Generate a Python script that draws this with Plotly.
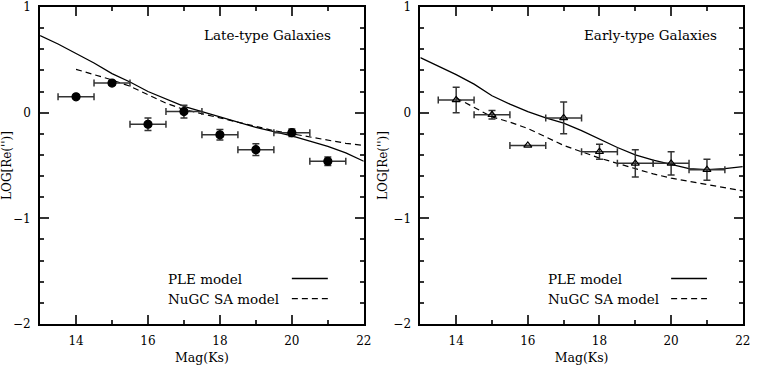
import plotly.graph_objects as go

# observed bins (Ks magnitude)
mag = [14, 15, 16, 17, 18, 19, 20, 21]
mag_err = [0.5] * 8

# late-type galaxies
late_re = [0.15, 0.28, -0.11, 0.01, -0.21, -0.35, -0.19, -0.46]
late_err = [0.0, 0.02, 0.06, 0.06, 0.05, 0.055, 0.035, 0.04]

# early-type galaxies
early_re = [0.12, -0.02, -0.31, -0.05, -0.37, -0.48, -0.48, -0.54]
early_err = [0.12, 0.04, 0.0, 0.15, 0.07, 0.13, 0.11, 0.10]

# model curves
ple_mag = [13, 13.5, 14, 14.5, 15, 15.5, 16, 16.5, 17, 17.5, 18, 18.5, 19, 19.5, 20, 20.5, 21, 21.5, 22]
late_ple = [0.73, 0.65, 0.56, 0.47, 0.37, 0.29, 0.20, 0.13, 0.06, 0.01, -0.04, -0.09, -0.14, -0.18,
            -0.22, -0.27, -0.32, -0.38, -0.46]
early_ple = [0.52, 0.44, 0.36, 0.27, 0.16, 0.08, 0.01, -0.05, -0.10, -0.17, -0.25, -0.33, -0.40, -0.45,
             -0.49, -0.53, -0.54, -0.53, -0.51]

sa_mag = [14, 14.5, 15, 15.5, 16, 16.5, 17, 17.5, 18, 18.5, 19, 19.5, 20, 20.5, 21, 21.5, 22]
late_sa = [0.41, 0.36, 0.31, 0.25, 0.17, 0.09, 0.03, -0.01, -0.05, -0.09, -0.13, -0.17, -0.20, -0.23,
           -0.26, -0.29, -0.31]
early_sa = [0.14, 0.05, -0.04, -0.09, -0.15, -0.23, -0.31, -0.37, -0.43, -0.48, -0.53, -0.58, -0.62,
            -0.65, -0.68, -0.71, -0.74]

FONT = "DejaVu Serif"
DASH = "6px,4px"

fig = go.Figure()

panels = [
    ("x", "y", late_re, late_err, late_ple, late_sa, "circle", 8, "Late-type Galaxies"),
    ("x2", "y2", early_re, early_err, early_ple, early_sa, "triangle-up-open", 7, "Early-type Galaxies"),
]

for xa, ya, re, err, ple, sa, sym, size, label in panels:
    fig.add_trace(go.Scatter(x=ple_mag, y=ple, mode="lines", xaxis=xa, yaxis=ya,
                             line=dict(color="black", width=1.3), showlegend=False))
    fig.add_trace(go.Scatter(x=sa_mag, y=sa, mode="lines", xaxis=xa, yaxis=ya,
                             line=dict(color="black", width=1.2, dash=DASH), showlegend=False))
    fig.add_trace(go.Scatter(
        x=mag, y=re, mode="markers", xaxis=xa, yaxis=ya, showlegend=False,
        marker=dict(symbol=sym, size=size, color="black", line=dict(color="black", width=1.2)),
        error_x=dict(type="data", array=mag_err, color="#333333", thickness=1.5, width=3.5),
        error_y=dict(type="data", array=err, color="#333333", thickness=1.5, width=3.5),
    ))

    # label and legend, text on the left, line sample on the right
    fig.add_annotation(x=17.5, y=0.735, xref=xa, yref=ya, text=label, showarrow=False,
                       xanchor="left", font=dict(family=FONT, size=13.5, color="black"))
    fig.add_annotation(x=16.5, y=-1.57, xref=xa, yref=ya, text="PLE model", showarrow=False,
                       xanchor="left", font=dict(family=FONT, size=13.5, color="black"))
    fig.add_annotation(x=16.5, y=-1.76, xref=xa, yref=ya, text="NuGC SA model", showarrow=False,
                       xanchor="left", font=dict(family=FONT, size=13.5, color="black"))
    fig.add_shape(type="line", x0=20, x1=21, y0=-1.57, y1=-1.57, xref=xa, yref=ya,
                  line=dict(color="black", width=1.3))
    fig.add_shape(type="line", x0=20, x1=21, y0=-1.76, y1=-1.76, xref=xa, yref=ya,
                  line=dict(color="black", width=1.2, dash=DASH))

xaxis_style = dict(
    range=[13, 22], tick0=0, dtick=2, ticks="inside", ticklen=9, tickwidth=1.5, tickcolor="#333333",
    minor=dict(dtick=1, tick0=0, ticks="inside", ticklen=4, tickwidth=1.5, tickcolor="#333333"),
    showline=True, linecolor="black", linewidth=1.8, mirror="allticks", showgrid=False, zeroline=False,
    tickfont=dict(family=FONT, size=12, color="black"), ticklabeloverflow="allow", ticklabelstandoff=5,
    title=dict(text="Mag(Ks)", font=dict(family=FONT, size=12.5, color="black"), standoff=7),
)
yaxis_style = dict(
    range=[-2, 1], tick0=0, dtick=1, ticks="inside", ticklen=9, tickwidth=1.5, tickcolor="#333333",
    minor=dict(dtick=0.2, tick0=0, ticks="inside", ticklen=4, tickwidth=1.5, tickcolor="#333333"),
    showline=True, linecolor="black", linewidth=1.8, mirror="allticks", showgrid=False, zeroline=False,
    tickfont=dict(family=FONT, size=12, color="black"), domain=[0.097, 1.0],
    ticklabeloverflow="allow", ticklabelstandoff=5,
    title=dict(text="LOG[Re('')]", font=dict(family=FONT, size=12, color="black"), standoff=3),
)

fig.update_layout(
    width=757, height=365,
    margin=dict(l=0, r=2, t=4, b=0),
    plot_bgcolor="white", paper_bgcolor="white",
    xaxis=dict(xaxis_style, domain=[0.0535, 0.4857], anchor="y"),
    yaxis=dict(yaxis_style, anchor="x"),
    xaxis2=dict(xaxis_style, domain=[0.5612, 0.9917], anchor="y2"),
    yaxis2=dict(yaxis_style, anchor="x2"),
)

# drop the default page margin so the figure sits at the window's corner
fig.write_html("out.html", config={"displayModeBar": False},
               post_script="document.body.style.margin='0';"
                           "document.documentElement.style.overflow='hidden';")
